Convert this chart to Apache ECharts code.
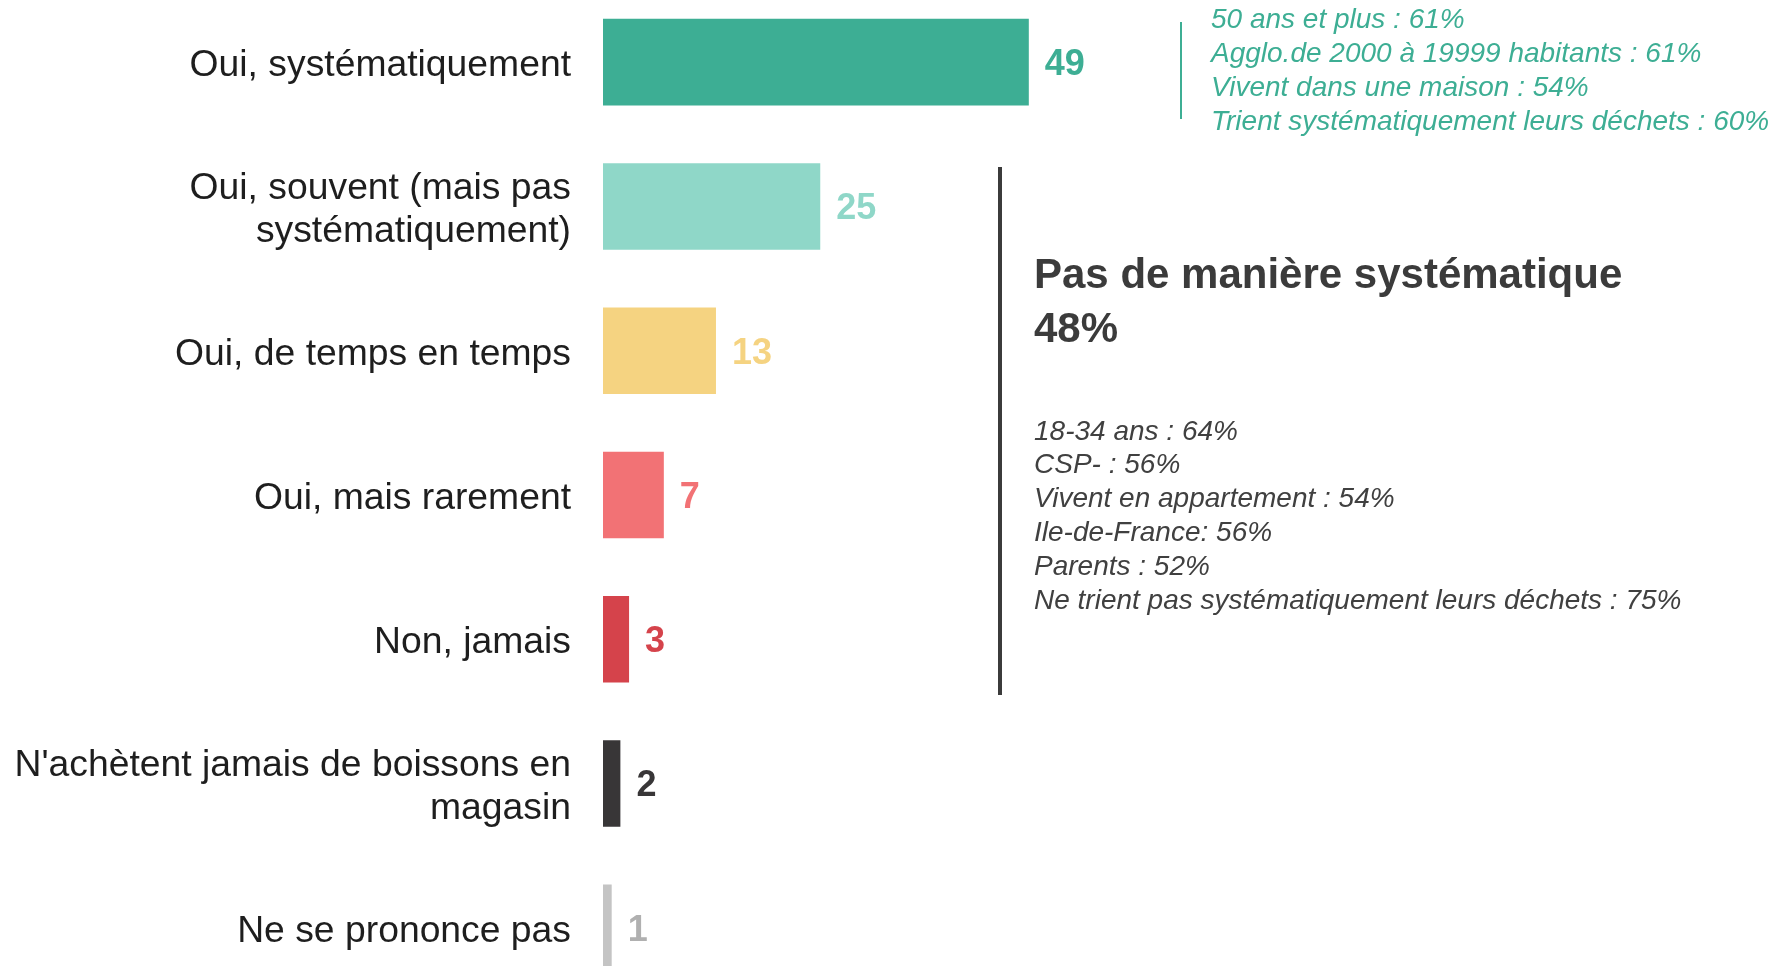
<!DOCTYPE HTML>
<html>

<head>
    <meta http-equiv="content-type" content="text/html;charset=utf-8">
    <script src="https://cdn.jsdelivr.net/npm/echarts@6/dist/echarts.min.js"></script>
    <title>Boissons</title>
    <style>
        html, body { margin: 0; padding: 0; background: #fff; }
        #main { width: 1781px; height: 966px; }
    </style>
</head>

<body>
    <div id="main"></div>
</body>

<script>
    // data
    var categories = [
        'Oui, systématiquement',
        'Oui, souvent (mais pas\nsystématiquement)',
        'Oui, de temps en temps',
        'Oui, mais rarement',
        'Non, jamais',
        "N'achètent jamais de boissons en\nmagasin",
        'Ne se prononce pas'
    ];
    var values = [49, 25, 13, 7, 3, 2, 1];
    var barColors = ['#3dae94', '#8fd7c8', '#f5d381', '#f27275', '#d5434b', '#383637', '#c4c4c4'];
    var labelColors = ['#3dae94', '#8fd7c8', '#f5d381', '#f27275', '#d5434b', '#383637', '#b0b0b0'];

    var systNotes = [
        '50 ans et plus : 61%',
        'Agglo.de 2000 à 19999 habitants : 61%',
        'Vivent dans une maison : 54%',
        'Trient systématiquement leurs déchets : 60%'
    ];
    var pasSystTitle = ['Pas de manière systématique', '48%'];
    var pasSystNotes = [
        '18-34 ans : 64%',
        'CSP- : 56%',
        'Vivent en appartement : 54%',
        'Ile-de-France: 56%',
        'Parents : 52%',
        'Ne trient pas systématiquement leurs déchets : 75%'
    ];

    var font = "'Liberation Sans', Arial, sans-serif";
    var teal = '#3dae94';
    var dark = '#3b3b3b';

    var myChart = echarts.init(document.getElementById('main'));

    var barData = values.map(function (v, i) {
        return {
            value: v,
            itemStyle: { color: barColors[i] },
            label: { color: labelColors[i] }
        };
    });

    var option = {
        animation: false,
        backgroundColor: '#fff',
        grid: {
            left: 603,
            width: 869,
            top: -10,
            bottom: -34,
            containLabel: false,
            outerBoundsMode: 'none'
        },
        xAxis: {
            type: 'value',
            min: 0,
            max: 100,
            show: false
        },
        yAxis: {
            type: 'category',
            inverse: true,
            data: categories,
            axisLine: { show: false },
            axisTick: { show: false },
            splitLine: { show: false },
            axisLabel: {
                margin: 32,
                align: 'right',
                // each line pushed a few px down to sit like the original
                formatter: function (v) {
                    return v.split('\n').map(function (l) { return '{c|' + l + '}'; }).join('\n');
                },
                rich: {
                    c: {
                        fontSize: 37.3,
                        lineHeight: 43,
                        padding: [7, 0, 0, 0],
                        color: '#1e1e1e',
                        fontFamily: font,
                        align: 'right'
                    }
                }
            }
        },
        series: [{
            type: 'bar',
            data: barData,
            barCategoryGap: '40%',
            label: {
                show: true,
                position: 'right',
                distance: 16,
                offset: [0, 3],
                fontSize: 36,
                fontWeight: 'bold',
                fontFamily: font
            }
        }],
        graphic: [
            // teal note
            {
                type: 'line',
                shape: { x1: 1181, y1: 22, x2: 1181, y2: 119 },
                style: { stroke: teal, lineWidth: 2 }
            },
            {
                type: 'text',
                x: 1211,
                y: 3,
                style: {
                    text: systNotes.join('\n'),
                    fill: teal,
                    font: 'italic 28px ' + font,
                    lineHeight: 34,
                    verticalAlign: 'top'
                }
            },
            // dark note
            {
                type: 'line',
                shape: { x1: 1000, y1: 167, x2: 1000, y2: 695 },
                style: { stroke: dark, lineWidth: 4 }
            },
            {
                type: 'text',
                x: 1034,
                y: 249,
                style: {
                    text: pasSystTitle.join('\n'),
                    fill: dark,
                    font: 'bold 42px ' + font,
                    lineHeight: 54,
                    verticalAlign: 'top'
                }
            },
            {
                type: 'text',
                x: 1034,
                y: 415,
                style: {
                    text: pasSystNotes.join('\n'),
                    fill: '#404040',
                    font: 'italic 28px ' + font,
                    lineHeight: 33.8,
                    verticalAlign: 'top'
                }
            }
        ]
    };

    myChart.setOption(option);
</script>

</html>
